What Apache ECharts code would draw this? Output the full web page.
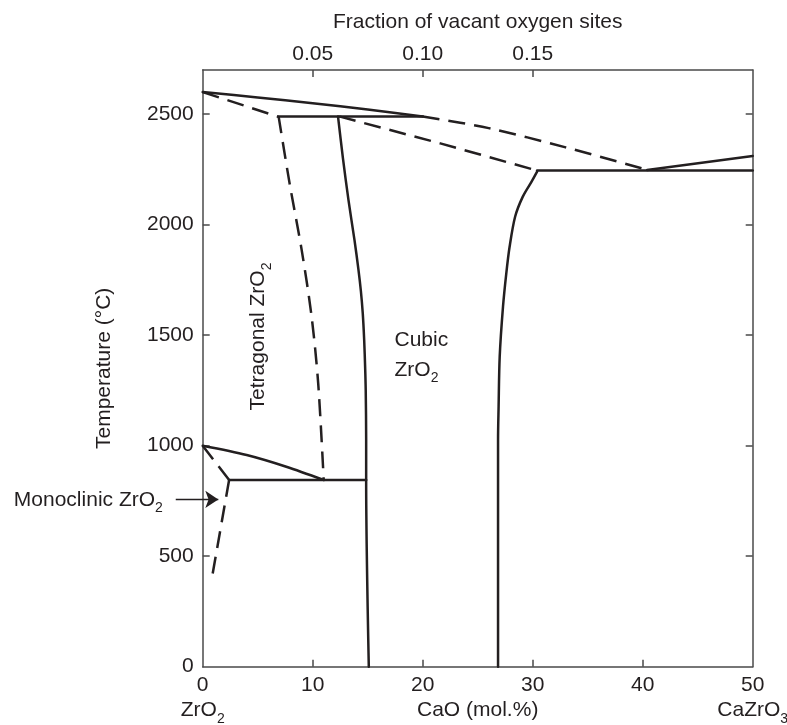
<!DOCTYPE html>
<html><head><meta charset="utf-8">
<script src="https://cdn.jsdelivr.net/npm/echarts@6/dist/echarts.min.js"></script>
<style>html,body{margin:0;padding:0;background:#fff}#c{width:787px;height:725px}</style>
</head><body><div id="c"></div>
<script>
// ---- axis ticks / labels ----
const xTicks = [0, 10, 20, 30, 40, 50];            // CaO (mol.%)
const xEndNames = ['ZrO{s|2}', 'CaZrO{s|3}'];       // under 0 and 50
const tempTicks = [0, 500, 1000, 1500, 2000, 2500];
const topTickMol = [10, 20, 30];                    // positions in mol.% of the top ticks
const topTickLabels = ['0.05', '0.10', '0.15'];     // fraction of vacant oxygen sites

// ---- phase boundaries [CaO mol.%, T °C] ----
const liquidus          = [[0, 2600], [5, 2576], [10, 2550], [15, 2521], [20, 2490]];
const liquidusDashed    = [[20, 2490], [26, 2437], [33, 2350], [40.4, 2248]];
const solidusLeftDashed = [[0, 2600], [6.9, 2488]];
const peritectic2490    = [[6.9, 2490], [20, 2490]];
const solidusCubicDash  = [[12.4, 2490], [21.6, 2368], [30.4, 2245]];
const eutectic2250      = [[30.4, 2245], [50, 2245]];
const liquidusRight     = [[40.4, 2248], [50, 2311]];
const tetragonalDashed  = [[6.9, 2490], [7.9, 2187], [9.0, 1885], [9.9, 1584], [10.5, 1282], [11.0, 845]];
const cubicLeft         = [[12.3, 2490], [12.75, 2300], [13.25, 2112], [13.8, 1930], [14.15, 1800], [14.38, 1700], [14.55, 1600], [14.68, 1478], [14.77, 1350], [14.82, 1252], [14.86, 1026], [14.86, 845], [15.1, 0]];
const cubicRight        = [[30.4, 2240], [29.9, 2195], [29.1, 2127], [28.4, 2036], [27.9, 1900], [27.6, 1780], [27.3, 1629], [27.0, 1403], [26.9, 1176], [26.85, 1026], [26.85, 0]];
const eutectoid845      = [[2.4, 845], [14.86, 845]];
const monoclinicSolid   = [[0, 1000], [4, 958], [7.6, 905], [11, 845]];
const monoclinicDash1   = [[0, 1000], [2.4, 845]];
const monoclinicDash2   = [[2.4, 845], [0.85, 405]];

// ---- annotations ----
const arrowMono = [[-2.45, 757], [1.42, 757]];
const annotMono = [-3.58, 752];
const annotTetra = [5.1, 1492];
const annotCubic = [17.48, 1523];

const INK = '#231f20';
const AXIS = '#4a4a4a';
const FONT = '"Liberation Sans", Arial, Helvetica, sans-serif';
const rich = {
  u: { fontSize: 21, lineHeight: 21, verticalAlign: 'top', color: INK, fontFamily: FONT },
  c: { fontSize: 21, lineHeight: 30, verticalAlign: 'top', color: INK, fontFamily: FONT },
  s: { fontSize: 14, lineHeight: 14, padding: [12, 0, 0, 0], verticalAlign: 'top', color: INK, fontFamily: FONT }
};

function solid(data, smooth) {
  return { type: 'line', data: data, showSymbol: false, symbol: 'none', smooth: smooth || 0,
    clip: false, lineStyle: { color: INK, width: 2.5, cap: 'round', join: 'round' }, silent: true };
}
function dashed(data, smooth) {
  return { type: 'line', data: data, showSymbol: false, symbol: 'none', smooth: smooth || 0,
    clip: false, lineStyle: { color: INK, width: 2.5, type: [17, 9], join: 'round' }, silent: true };
}

const chart = echarts.init(document.getElementById('c'), null, { renderer: 'canvas' });
chart.setOption({
  animation: false,
  backgroundColor: '#fff',
  textStyle: { fontFamily: FONT, color: INK },
  grid: { left: 202.7, top: 70, right: 34.3, bottom: 58.3, outerBoundsMode: 'none', containLabel: false },
  xAxis: [
    {
      type: 'value', position: 'bottom', min: 0, max: 50, interval: 10,
      name: 'CaO (mol.%)', nameLocation: 'middle', nameGap: 33, nameMoveOverlap: false,
      nameTextStyle: { fontSize: 21, color: INK, fontFamily: FONT },
      axisLine: { show: true, onZero: false, lineStyle: { color: AXIS, width: 1.5 } },
      axisTick: { show: true, inside: true, length: 7, lineStyle: { color: AXIS, width: 1.5 }, customValues: xTicks.slice(1, -1) },
      axisLabel: {
        show: true, margin: 5, fontSize: 21, lineHeight: 28, color: INK, fontFamily: FONT,
        customValues: xTicks, showMinLabel: true, showMaxLabel: true, hideOverlap: false,
        formatter: function (v) {
          if (v === xTicks[0]) return v + '\n{u|' + xEndNames[0].replace('{s|', '}{s|');
          if (v === xTicks[xTicks.length - 1]) return v + '\n{u|' + xEndNames[1].replace('{s|', '}{s|');
          return String(v);
        },
        rich: rich
      },
      splitLine: { show: false }
    },
    {
      type: 'value', position: 'top', min: 0, max: 50,
      name: 'Fraction of vacant oxygen sites', nameLocation: 'middle', nameGap: 37.5, nameMoveOverlap: false,
      nameTextStyle: { fontSize: 21, color: INK, fontFamily: FONT },
      axisLine: { show: true, onZero: false, lineStyle: { color: AXIS, width: 1.5 } },
      axisTick: { show: true, inside: true, length: 7, lineStyle: { color: AXIS, width: 1.5 }, customValues: topTickMol },
      axisLabel: {
        show: true, margin: 5.5, fontSize: 21, color: INK, fontFamily: FONT, customValues: topTickMol,
        formatter: function (v) { const i = topTickMol.indexOf(v); return i >= 0 ? topTickLabels[i] : ''; }
      },
      splitLine: { show: false }
    }
  ],
  yAxis: [
    {
      type: 'value', position: 'left', min: 0, max: 2700, interval: 500,
      name: 'Temperature (°C)', nameLocation: 'middle', nameGap: 88, nameMoveOverlap: false,
      nameTextStyle: { fontSize: 21, color: INK, fontFamily: FONT },
      axisLine: { show: true, onZero: false, lineStyle: { color: AXIS, width: 1.5 } },
      axisTick: { show: true, inside: true, length: 7, lineStyle: { color: AXIS, width: 1.5 }, customValues: tempTicks.slice(1) },
      axisLabel: { show: true, margin: 9, fontSize: 21, color: INK, fontFamily: FONT, customValues: tempTicks,
        formatter: function (v) { return String(v); } },
      splitLine: { show: false }
    },
    {
      type: 'value', position: 'right', min: 0, max: 2700, interval: 500,
      axisLine: { show: true, onZero: false, lineStyle: { color: AXIS, width: 1.5 } },
      axisTick: { show: true, inside: true, length: 7, lineStyle: { color: AXIS, width: 1.5 }, customValues: tempTicks.slice(1) },
      axisLabel: { show: false },
      splitLine: { show: false }
    }
  ],
  series: [
    solid(liquidus, 0.3),
    dashed(liquidusDashed, 0.3),
    dashed(solidusLeftDashed),
    solid(peritectic2490),
    dashed(solidusCubicDash),
    solid(eutectic2250),
    solid(liquidusRight),
    dashed(tetragonalDashed, 0.3),
    solid(cubicLeft, 0.3),
    solid(cubicRight, 0.3),
    solid(eutectoid845),
    solid(monoclinicSolid, 0.3),
    dashed(monoclinicDash1),
    dashed(monoclinicDash2),
    {
      type: 'lines', coordinateSystem: 'cartesian2d', clip: false, silent: true,
      symbol: ['none', 'arrow'], symbolSize: 13,
      lineStyle: { color: INK, width: 1.3, opacity: 1 },
      itemStyle: { color: INK },
      data: [{ coords: arrowMono }]
    },
    {
      type: 'scatter', clip: false, silent: true, symbolSize: 1,
      itemStyle: { color: 'rgba(0,0,0,0)', opacity: 1 },
      label: { show: true, position: [0, 0], color: INK, opacity: 1, fontFamily: FONT, fontSize: 21, rich: rich },
      data: [
        { value: annotMono, label: { formatter: '{u|Monoclinic ZrO}{s|2}', align: 'right', verticalAlign: 'middle' } },
        { value: annotTetra, label: { formatter: '{u|Tetragonal ZrO}{s|2}', align: 'center', verticalAlign: 'middle', rotate: 90 } },
        { value: annotCubic, label: { formatter: '{c|Cubic}\n{u|ZrO}{s|2}', align: 'left', verticalAlign: 'top' } }
      ]
    }
  ]
});
</script></body></html>
